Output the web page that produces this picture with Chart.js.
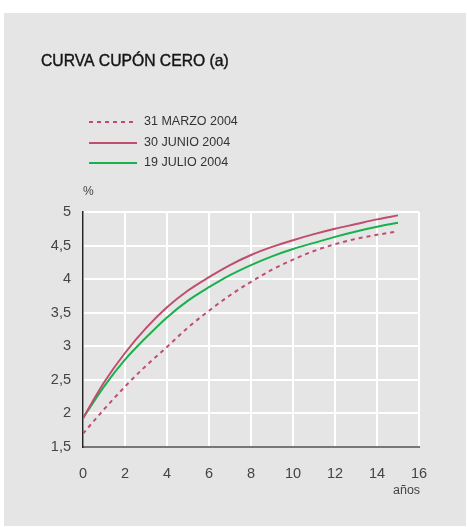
<!DOCTYPE html>
<html>
<head>
<meta charset="utf-8">
<script src="https://cdn.jsdelivr.net/npm/chart.js@4.4.1/dist/chart.umd.min.js"></script>
<style>
  html, body { margin: 0; padding: 0; background: #fff; }
  #wrap { position: absolute; left: 0; top: 0; width: 467px; height: 527px; }
</style>
</head>
<body>
<div id="wrap"><canvas id="chart" width="467" height="527"></canvas></div>
<script>
// plazo en años
const years = [0, 1, 2, 3, 4, 5, 6, 7, 8, 9, 10, 11, 12, 13, 14, 15];

const marzo = [1.70, 2.06, 2.40, 2.71, 2.99, 3.28, 3.53, 3.76, 3.96, 4.14, 4.29, 4.42, 4.52, 4.60, 4.66, 4.71];
const junio = [1.93, 2.46, 2.90, 3.27, 3.58, 3.83, 4.03, 4.21, 4.36, 4.48, 4.58, 4.67, 4.75, 4.82, 4.89, 4.95];
const julio = [1.93, 2.40, 2.80, 3.13, 3.43, 3.68, 3.88, 4.06, 4.21, 4.34, 4.45, 4.54, 4.63, 4.71, 4.78, 4.84];

const seriesLabels = ['31 MARZO 2004', '30 JUNIO 2004', '19 JULIO 2004'];
const xTicks = [0, 2, 4, 6, 8, 10, 12, 14, 16];
const yTickLabels = ['1,5', '2', '2,5', '3', '3,5', '4', '4,5', '5'];

const RED = '#bf4e6d';
const GREEN = '#17b24b';
const FONT = '"Liberation Sans", Arial, sans-serif';

const toPoints = vals => vals.map((v, i) => ({ x: years[i], y: v }));

const decor = {
  id: 'decor',
  beforeDraw(chart) {
    const c = chart.ctx;
    c.save();
    c.fillStyle = '#ffffff';
    c.fillRect(0, 0, chart.width, chart.height);
    c.fillStyle = '#e5e5e5';
    c.fillRect(4, 13, 462, 513);
    c.restore();
  },
  afterDraw(chart) {
    const c = chart.ctx;
    c.save();
    c.textBaseline = 'middle';
    c.textAlign = 'left';
    // titulo
    c.fillStyle = '#151515';
    c.strokeStyle = '#151515';
    c.lineWidth = 0.4;
    c.font = '15.7px ' + FONT;
    c.fillText('CURVA CUPÓN CERO (a)', 41, 62);
    c.strokeText('CURVA CUPÓN CERO (a)', 41, 62);
    // leyenda
    const rows = [122, 143, 163];
    const colors = [RED, RED, GREEN];
    const dashes = [[4, 4], [], []];
    rows.forEach((y, i) => {
      c.strokeStyle = colors[i];
      c.lineWidth = 2;
      c.setLineDash(dashes[i]);
      c.beginPath();
      c.moveTo(89, y);
      c.lineTo(137, y);
      c.stroke();
      c.setLineDash([]);
      c.fillStyle = '#333';
      c.font = '12.5px ' + FONT;
      c.fillText(seriesLabels[i], 144, y);
    });
    // unidades
    c.fillStyle = '#444';
    c.font = '12px ' + FONT;
    c.fillText('%', 83, 192);
    c.font = '12.5px ' + FONT;
    c.fillText('años', 393, 491);
    c.restore();
  }
};

new Chart(document.getElementById('chart'), {
  type: 'line',
  data: {
    datasets: [
      {
        label: seriesLabels[0],
        data: toPoints(marzo),
        borderColor: RED,
        borderWidth: 2,
        borderDash: [4, 4],
        pointRadius: 0,
        cubicInterpolationMode: 'monotone',
        fill: false
      },
      {
        label: seriesLabels[1],
        data: toPoints(junio),
        borderColor: RED,
        borderWidth: 2,
        pointRadius: 0,
        cubicInterpolationMode: 'monotone',
        fill: false
      },
      {
        label: seriesLabels[2],
        data: toPoints(julio),
        borderColor: GREEN,
        borderWidth: 2,
        pointRadius: 0,
        cubicInterpolationMode: 'monotone',
        fill: false
      }
    ]
  },
  options: {
    responsive: false,
    animation: false,
    devicePixelRatio: 1,
    layout: { padding: { top: 212, right: 48, bottom: 0, left: 0 } },
    plugins: {
      legend: { display: false },
      tooltip: { enabled: false },
      title: { display: false }
    },
    scales: {
      x: {
        type: 'linear',
        min: 0,
        max: 16,
        afterBuildTicks: scale => { scale.ticks = xTicks.map(v => ({ value: v })); },
        afterFit: scale => { scale.height = 80; },
        grid: { color: '#ffffff', lineWidth: 2, drawTicks: false },
        border: { color: '#777777', width: 2 },
        ticks: {
          padding: 18,
          color: '#444',
          font: { family: FONT, size: 14.5 },
          maxRotation: 0
        }
      },
      y: {
        min: 1.5,
        max: 5,
        afterFit: scale => { scale.width = 83; },
        grid: { color: '#ffffff', lineWidth: 2, drawTicks: false },
        border: { color: '#222222', width: 1.5 },
        ticks: {
          stepSize: 0.5,
          padding: 12,
          color: '#444',
          font: { family: FONT, size: 14.5 },
          callback: (v, i) => yTickLabels[i]
        }
      }
    }
  },
  plugins: [decor]
});
</script>
</body>
</html>
